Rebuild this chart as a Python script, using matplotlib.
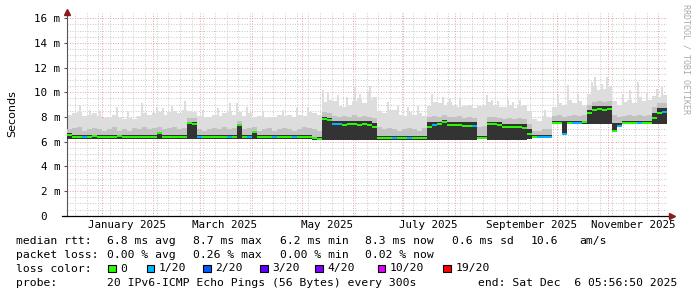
import datetime as dt
import numpy as np
import matplotlib
matplotlib.use('Agg')
import matplotlib.pyplot as plt
import matplotlib.dates as mdates
import matplotlib.transforms as mtransforms
from matplotlib.collections import LineCollection
from matplotlib.patches import Rectangle

W, H = 697, 297
MONO = 'DejaVu Sans Mono'

# time frame of the graph: 360 days ending at the "end:" time, 3 day bins
end_time = dt.datetime(2025, 12, 6, 5, 56, 50)
span_days = 360
bin_days = 3

# median rtt per bin [ms]
median = [6.55, 6.4, 6.4, 6.38, 6.4, 6.42, 6.4, 6.38, 6.4, 6.4, 6.42, 6.4, 6.38, 6.4, 6.4, 6.4, 6.38,
          6.4, 6.7, 6.4, 6.38, 6.4, 6.4, 6.4, 7.48, 7.45, 6.35, 6.38, 6.4, 6.4, 6.38, 6.4, 6.36, 6.4,
          7.35, 6.4, 6.38, 6.8, 6.4, 6.38, 6.36, 6.38, 6.35, 6.36, 6.38, 6.36, 6.35, 6.36, 6.38, 6.26, 6.25,
          7.85, 7.75, 7.45, 7.4, 7.38, 7.4, 7.42, 7.38, 7.4, 7.36, 7.15,
          6.3, 6.3, 6.28, 6.3, 6.3, 6.28, 6.3, 6.3, 6.28, 6.3,
          7.2, 7.35, 7.4, 7.6, 7.38, 7.35, 7.36, 7.3, 7.28, 7.27,
          6.32, 6.32,
          7.42, 7.4, 7.38, 7.16, 7.18, 7.2, 7.16, 7.14,
          6.65,
          6.4, 6.38, 6.4, 6.4,
          7.52, 7.55, 6.6, 7.55, 7.54, 7.55, 7.56,
          8.3, 8.55, 8.62, 8.6, 8.65,
          6.9,
          7.3, 7.48, 7.5, 7.5, 7.48, 7.5, 7.52,
          7.9,
          8.32, 8.38]

# lost pings per bin (out of 20)
loss = [0, 0, 0, 1, 0, 0, 0, 0, 0, 0, 0, 0, 0, 0, 0, 0, 0, 0, 0, 0,
        0, 0, 0, 0, 0, 0, 1, 0, 0, 0, 0, 0, 1, 0, 0, 0, 1, 0, 0, 0,
        0, 1, 0, 0, 0, 1, 0, 0, 0, 0, 0, 0, 0, 1, 1, 0, 0, 0, 0, 0,
        0, 0, 0, 0, 0, 1, 0, 0, 1, 0, 0, 0, 0, 1, 0, 0, 0, 0, 0, 0,
        0, 1, 0, 0, 0, 0, 0, 0, 0, 0, 0, 0, 0, 0, 1, 1, 1, 0, 0, 1,
        0, 1, 1, 0, 0, 0, 0, 0, 0, 0, 1, 0, 0, 0, 1, 0, 0, 0, 0, 1]

# smoke: fastest ping, top of dense core, top of medium band, bulk of slow pings [ms]
ping_lo = [6.2, 6.2, 6.2, 6.2, 6.2, 6.2, 6.2, 6.2, 6.2, 6.2, 6.2, 6.2, 6.2, 6.2, 6.2, 6.2, 6.2,
           6.2, 6.2, 6.2, 6.2, 6.2, 6.2, 6.2, 6.2, 6.2, 6.2, 6.2, 6.2, 6.2, 6.2, 6.2, 6.2, 6.2,
           6.2, 6.2, 6.2, 6.2, 6.2, 6.2, 6.2, 6.2, 6.2, 6.2, 6.2, 6.2, 6.2, 6.2, 6.2, 6.15, 6.15,
           6.15, 6.15, 6.15, 6.15, 6.15, 6.15, 6.15, 6.15, 6.15, 6.15, 6.15,
           6.15, 6.15, 6.15, 6.15, 6.15, 6.15, 6.15, 6.15, 6.15, 6.15,
           6.15, 6.15, 6.15, 6.15, 6.15, 6.15, 6.15, 6.15, 6.15, 6.15,
           6.2, 6.2,
           6.15, 6.15, 6.15, 6.15, 6.15, 6.15, 6.15, 6.15,
           6.2,
           6.3, 6.3, 6.3, 6.3,
           7.45, 7.45, 6.5, 7.45, 7.45, 7.45, 7.45,
           7.45, 7.45, 7.45, 7.45, 7.45,
           6.8,
           7.2, 7.4, 7.4, 7.4, 7.4, 7.4, 7.4,
           7.4,
           7.4, 7.4]

smoke_core = [6.7, 6.5, 6.5, 6.5, 6.5, 6.5, 6.5, 6.5, 6.5, 6.5, 6.5, 6.5, 6.5, 6.5, 6.5, 6.5, 6.5,
              6.5, 6.8, 6.5, 6.5, 6.5, 6.5, 6.5, 7.62, 7.6, 6.5, 6.5, 6.5, 6.5, 6.5, 6.5, 6.5, 6.5,
              7.45, 6.5, 6.5, 6.9, 6.5, 6.5, 6.5, 6.5, 6.5, 6.5, 6.5, 6.5, 6.5, 6.5, 6.5, 6.4, 6.4,
              8.0, 7.9, 7.65, 7.65, 7.65, 7.65, 7.65, 7.65, 7.65, 7.65, 7.5,
              6.45, 6.45, 6.45, 6.45, 6.45, 6.45, 6.45, 6.45, 6.45, 6.45,
              7.6, 7.6, 7.6, 7.75, 7.6, 7.6, 7.6, 7.6, 7.6, 7.6,
              6.45, 6.45,
              7.6, 7.6, 7.6, 7.45, 7.45, 7.45, 7.45, 7.45,
              7.0,
              6.5, 6.5, 6.5, 6.5,
              7.7, 7.7, 7.65, 7.7, 7.7, 7.7, 7.7,
              8.6, 8.85, 8.85, 8.85, 8.85,
              7.5,
              7.5, 7.7, 7.7, 7.7, 7.7, 7.7, 7.7,
              8.3,
              8.7, 8.7]

smoke_mid = [7.0, 7.1, 7.2, 6.9, 7.0, 7.1, 7.0, 6.9, 7.0, 7.2, 6.9, 7.0, 6.9, 7.1, 7.0, 7.2, 7.0,
             7.1, 7.2, 7.0, 7.1, 7.2, 7.0, 7.1, 7.9, 7.9, 7.0, 6.9, 7.0, 7.1, 7.0, 7.2, 7.0, 7.1,
             7.7, 7.0, 7.1, 7.2, 6.9, 7.0, 7.1, 6.9, 7.0, 7.1, 7.0, 6.9, 7.0, 7.2, 7.1, 7.0, 6.9,
             8.4, 8.3, 8.1, 8.0, 8.1, 8.0, 8.2, 8.0, 8.1, 8.0, 7.9,
             7.2, 7.0, 7.1, 7.0, 6.9, 7.0, 7.1, 7.0, 6.9, 7.1,
             8.0, 8.1, 8.0, 8.2, 8.0, 8.0, 8.1, 7.9, 8.0, 7.9,
             7.2, 7.3,
             8.0, 8.0, 7.9, 7.8, 7.9, 7.8, 7.9, 7.8,
             7.4,
             6.9, 6.9, 7.0, 7.0,
             8.1, 8.2, 8.0, 8.1, 8.2, 8.1, 8.2,
             9.0, 9.2, 9.3, 9.2, 9.3,
             8.2,
             8.0, 8.1, 8.2, 8.1, 8.2, 8.1, 8.2,
             8.8,
             9.1, 9.1]

ping_hi = [8.2, 8.3, 8.4, 8.1, 8.2, 8.3, 8.1, 7.9, 8.0, 8.2, 7.9, 7.8, 7.9, 7.8, 8.1, 8.3, 8.2,
           8.3, 8.4, 8.2, 8.4, 8.5, 8.3, 8.6, 8.5, 8.4, 8.1, 8.0, 8.0, 8.2, 8.1, 8.3, 8.5, 8.2,
           8.4, 8.1, 8.3, 8.0, 8.1, 7.9, 8.0, 8.0, 8.2, 8.1, 8.2, 8.0, 8.2, 8.1, 8.4, 8.3, 8.2,
           9.2, 9.4, 9.3, 8.9, 8.8, 9.0, 9.3, 9.5, 9.1, 9.4, 9.6,
           8.5, 8.3, 8.6, 8.6, 8.2, 8.1, 8.4, 8.2, 8.3, 8.1,
           8.9, 9.2, 9.1, 9.0, 9.2, 9.0, 8.8, 8.9, 9.0, 8.7,
           8.9, 9.0,
           9.2, 9.0, 8.8, 8.8, 9.0, 8.7, 8.9, 9.0,
           8.5,
           7.8, 7.7, 8.1, 8.0,
           8.8, 9.1, 9.0, 9.4, 9.1, 9.3, 9.0,
           9.9, 10.4, 10.2, 10.3, 10.5,
           9.3,
           9.0, 9.2, 9.4, 9.1, 9.6, 9.3, 9.4,
           9.7,
           9.6, 9.8]

# single slow-ping spikes above the smoke
spike_dates = ['2024-12-19', '2024-12-25', '2024-12-31', '2025-01-10', '2025-01-17', '2025-01-25',
               '2025-02-03', '2025-02-07', '2025-02-12', '2025-02-20', '2025-03-03', '2025-03-12',
               '2025-03-19', '2025-03-23', '2025-03-29', '2025-04-08', '2025-04-20', '2025-04-28',
               '2025-05-05', '2025-05-14', '2025-05-17', '2025-05-23', '2025-05-28', '2025-06-02',
               '2025-06-05', '2025-06-10', '2025-06-11', '2025-06-22', '2025-06-28', '2025-07-04',
               '2025-07-10', '2025-07-18', '2025-07-25', '2025-07-29', '2025-08-04', '2025-08-20',
               '2025-08-23', '2025-08-27', '2025-09-02', '2025-09-05', '2025-09-09', '2025-09-24',
               '2025-10-02', '2025-10-08', '2025-10-14', '2025-10-22', '2025-10-24', '2025-10-28',
               '2025-10-31', '2025-11-10', '2025-11-14', '2025-11-19', '2025-11-24', '2025-11-30',
               '2025-12-03']
spike_tops = [9.0, 8.6, 8.5, 8.8, 8.5, 9.1,
              8.8, 8.7, 8.9, 9.3, 8.6, 8.7,
              9.1, 9.1, 8.8, 8.5, 8.6, 8.7,
              8.8, 10.2, 10.0, 9.8, 9.6, 10.4,
              9.9, 10.1, 10.5, 9.2, 8.9, 8.8,
              8.9, 9.9, 9.6, 9.5, 9.5, 9.8,
              9.4, 9.3, 9.4, 9.2, 9.4, 8.6,
              9.8, 10.6, 9.9, 10.8, 11.2, 10.7,
              11.2, 9.9, 10.2, 10.8, 10.0, 10.3,
              10.4]

loss_colors = ['#26ff00', '#00b8ff', '#0059ff', '#5e00ff', '#7e00ff', '#dd00ff', '#ff0000']
loss_labels = ['0', '1/20', '2/20', '3/20', '4/20', '10/20', '19/20']

y_ticks = [0, 2, 4, 6, 8, 10, 12, 14, 16]
y_labels = ['0  ', '2 m', '4 m', '6 m', '8 m', '10 m', '12 m', '14 m', '16 m']
month_labels = ['January 2025', 'March 2025', 'May 2025', 'July 2025', 'September 2025', 'November 2025']
month_label_dates = [dt.datetime(2025, m, 16) for m in (1, 3, 5, 7, 9, 11)]

# legend text rows: (x pixel, text)
rtt_row = [(16, 'median rtt:'), (107, '6.8 ms avg'), (193, '8.7 ms max'), (280, '6.2 ms min'),
           (365, '8.3 ms now'), (451.5, '0.6 ms sd'), (530.5, '10.6'), (579, 'am/s')]
loss_row = [(16, 'packet loss:'), (107, '0.00 % avg'), (193, '0.26 % max'), (280, '0.00 % min'),
            (365, '0.02 % now')]
color_box_x = [108, 146.5, 203, 260, 315, 377.5, 443]
probe_row = [(16, 'probe:'), (107, '20 IPv6-ICMP Echo Pings (56 Bytes) every 300s'),
             (478, 'end: Sat Dec  6 05:56:50 2025')]


def fx(px):
    return px / W


def fy(py):
    return 1 - py / H


fig = plt.figure(figsize=(W / 100, H / 100), dpi=100, facecolor='white')
ax_top, ax_bot = 13.3, 215.7
ax = fig.add_axes([fx(67), fy(ax_bot), 600 / W, (ax_bot - ax_top) / H])

start_time = end_time - dt.timedelta(days=span_days)
n = len(median)
edges = mdates.date2num([start_time + dt.timedelta(days=bin_days * i) for i in range(n + 1)])


def ext(a):
    return np.append(a, a[-1])


# smoke
sx = mdates.date2num([dt.datetime.fromisoformat(d) for d in spike_dates])
ax.bar(sx, np.array(spike_tops) - 7.7, bottom=7.7, width=1.3, color='#dddddd', lw=0, zorder=2)
ax.fill_between(edges, ext(ping_lo), ext(ping_hi), step='post', color='#dddddd', lw=0, zorder=2)
ax.fill_between(edges, ext(ping_lo), ext(smoke_mid), step='post', color='#c2c2c2', lw=0, zorder=3)
ax.fill_between(edges, ext(ping_lo), ext(smoke_core), step='post', color='#333333', lw=0, zorder=4)

# median line, coloured by packet loss
segs = [[(edges[i], median[i]), (edges[i + 1], median[i])] for i in range(n)]
cols = [loss_colors[v] for v in loss]
ax.add_collection(LineCollection(segs, colors=cols, linewidths=1.4, capstyle='butt', zorder=5))

ax.set_xlim(edges[0], edges[-1])
ax.set_ylim(0, 16.4)

# grid
ax.xaxis.set_major_locator(mdates.MonthLocator())
ax.xaxis.set_minor_locator(mdates.WeekdayLocator(byweekday=mdates.MO))
ax.set_yticks(y_ticks)
ax.set_yticklabels(y_labels, fontfamily=MONO, fontsize=7.8)
ax.set_yticks(np.arange(0, 16.5, 0.5), minor=True)
ax.set_xticklabels([])
ax.grid(which='minor', color='#c8c8c8', lw=0.7, ls=(0, (1, 1.6)), zorder=1)
ax.grid(which='major', color='#e6a0a0', lw=0.7, ls=(0, (1, 1.6)), zorder=1)
ax.set_axisbelow(True)
ax.tick_params(axis='x', which='both', length=0)
ax.tick_params(axis='y', which='minor', length=0)
ax.tick_params(axis='y', which='major', length=2.5, width=0.8, color='#555555', pad=2.5, labelcolor='black')

for s in ('top', 'right', 'bottom'):
    ax.spines[s].set_visible(False)
ax.spines['left'].set_color('#555555')
ax.spines['left'].set_linewidth(0.8)
ax.plot([-0.008, 1.005], [0, 0], transform=ax.transAxes, color='black', lw=0.9, clip_on=False, zorder=6)
ax.plot([1.008], [0], transform=ax.transAxes, marker='>', color='#8b1a1a', ms=4, clip_on=False, zorder=6)
ax.plot([0], [1.005], transform=ax.transAxes, marker='^', color='#8b1a1a', ms=4, clip_on=False, zorder=6)

lab_tr = mtransforms.blended_transform_factory(ax.transData, fig.transFigure)
for d, lab in zip(month_label_dates, month_labels):
    ax.text(mdates.date2num(d), fy(225.5), lab, transform=lab_tr,
            ha='center', va='center', fontfamily=MONO, fontsize=7.8)

fig.text(fx(12), fy(113.5), 'Seconds', rotation=90, ha='center', va='center', fontsize=8)
fig.text(fx(686), fy(4), 'RRDTOOL / TOBI OETIKER', rotation=270, ha='center', va='top',
         fontfamily=MONO, fontsize=6, color='#aaaaaa')

fs = 8.2
for x, t in rtt_row:
    fig.text(fx(x), fy(241), t, ha='left', va='center', fontfamily=MONO, fontsize=fs)
for x, t in loss_row:
    fig.text(fx(x), fy(255), t, ha='left', va='center', fontfamily=MONO, fontsize=fs)
fig.text(fx(16), fy(268.5), 'loss color:', ha='left', va='center', fontfamily=MONO, fontsize=fs)
for x, c, lab in zip(color_box_x, loss_colors, loss_labels):
    fig.patches.append(Rectangle((fx(x), fy(272)), 7.5 / W, 7.5 / H, transform=fig.transFigure,
                                 facecolor=c, edgecolor='black', lw=0.8))
    fig.text(fx(x + 12.5), fy(268.5), lab, ha='left', va='center', fontfamily=MONO, fontsize=fs)
for x, t in probe_row:
    fig.text(fx(x), fy(283), t, ha='left', va='center', fontfamily=MONO, fontsize=fs)

fig.savefig('out.png', dpi=100, facecolor='white')
